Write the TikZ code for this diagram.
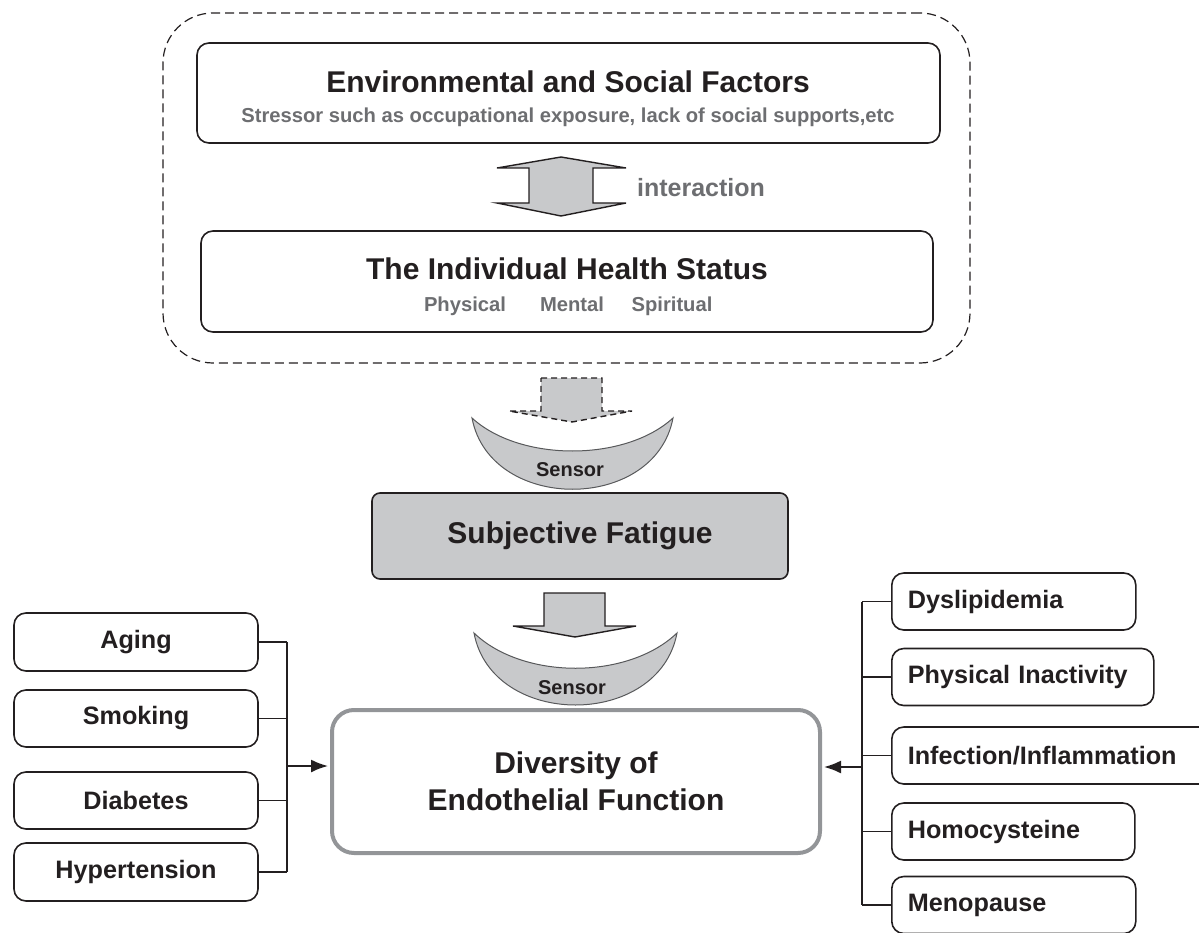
\documentclass[tikz,border=0pt]{standalone}
\usepackage{fontspec}
\setmainfont{Liberation Sans}
\usetikzlibrary{positioning}
\usetikzlibrary{arrows.meta}
\definecolor{ink}{HTML}{231F20}
\definecolor{softgray}{HTML}{6D6E71}
\definecolor{fillgray}{HTML}{C8C9CB}
\definecolor{framegray}{HTML}{939598}
\definecolor{rimgray}{HTML}{58595B}
\tikzset{
    mybox/.style = {rectangle, rounded corners=12pt, line width=1.6pt, draw=ink, inner sep=0pt, align=center, font=\bfseries\fontsize{25.2}{29}\selectfont, text=ink},
    myboxg/.style = {mybox, rounded corners=8pt, fill=fillgray, font=\bfseries\fontsize{30}{36}\selectfont},
    myboxm/.style = {mybox, rounded corners=22pt, line width=4pt, draw=framegray, font=\bfseries\fontsize{30}{37}\selectfont},
    myboxd/.style = {rectangle, rounded corners=50pt, line width=1.2pt, draw=ink, dash pattern=on 9pt off 5pt},
    myboxr/.style = {mybox, anchor=west, align=left, inner xsep=16pt, minimum height=57pt, text width=#1},
    mytitle/.style = {font=\bfseries\fontsize{30}{36}\selectfont, text=ink},
    mysub/.style = {font=\bfseries\fontsize{20.2}{24}\selectfont, text=softgray},
    mysubb/.style = {mysub, anchor=base},
    mysensor/.style = {font=\bfseries\fontsize{20}{24}\selectfont, text=ink},
    blockarrow/.style = {line width=1.4pt, draw=ink, fill=fillgray, line join=miter},
    crescent/.style = {line width=1pt, draw=rimgray, fill=fillgray},
    edgen/.style = {-, line width=1.8pt, ink},
    edgea/.style = {-{Latex[length=17pt,width=13pt]}, line width=1.8pt, ink, shorten >=2pt},
}

\begin{document}
\begin{tikzpicture}[x=1pt, y=-1pt]
  \useasboundingbox (0,0) rectangle (1199,933);

  % upper block
  \node[myboxd, minimum width=807pt, minimum height=350pt] (outer) at (566.5,188) {};
  \node[mybox, minimum width=743pt, minimum height=100pt] (env) at (568.5,93) {};
  \node[mytitle] (envt) at (568,82) {Environmental and Social Factors};
  \node[mysub] (envs) at (568,117) {Stressor such as occupational exposure, lack of social supports,etc};
  \node[mybox, minimum width=732pt, minimum height=101pt] (ind) at (567,281.5) {};
  \node[mytitle] (indt) at (567,269) {The Individual Health Status};
  \node[mysubb] (phys) at (465,312) {Physical};
  \node[mysubb] (ment) at (572,312) {Mental};
  \node[mysubb] (spir) at (672,312) {Spiritual};

  \draw[blockarrow] (561,157) -- (626,168) -- (593,168) -- (593,203) -- (626,203) -- (561,216)
    -- (497,203) -- (529,203) -- (529,168) -- (497,168) -- cycle;
  \node[font=\bfseries\fontsize{25}{30}\selectfont, text=softgray] (inter) at (701,188) {interaction};

  % sensor 1
  \draw[blockarrow, dash pattern=on 6pt off 4pt] (541,378) -- (602,378) -- (602,411) -- (632,411)
    -- (572,422) -- (509,411) -- (541,411) -- cycle;
  \draw[crescent] (472,418) .. controls (490,513) and (655,513) .. (673,418)
    .. controls (625,462) and (520,462) .. cycle;
  \node[mysensor] (sens1) at (570,470) {Sensor};

  \node[myboxg, minimum width=416pt, minimum height=86pt] (fatigue) at (580,536) {Subjective Fatigue};

  % sensor 2
  \draw[blockarrow] (544,593) -- (605,593) -- (605,626) -- (636,626) -- (575,637)
    -- (513,626) -- (544,626) -- cycle;
  \draw[crescent] (474,633) .. controls (492,729) and (659,729) .. (677,633)
    .. controls (628,680) and (523,680) .. cycle;
  \node[mysensor] (sens2) at (572,688) {Sensor};

  \node[myboxm, minimum width=488pt, minimum height=143pt] (main) at (576,781.5) {Diversity of\\Endothelial Function};

  % left factors
  \node[mybox, minimum width=244pt, minimum height=58pt] (aging) at (136,642) {Aging};
  \node[mybox, minimum width=244pt, minimum height=57pt] (smoking) at (136,718.5) {Smoking};
  \node[mybox, minimum width=244pt, minimum height=57pt] (diabetes) at (136,800.5) {Diabetes};
  \node[mybox, minimum width=244pt, minimum height=58pt] (hyper) at (136,872) {Hypertension};
  \coordinate (busl) at (287,766);
  \foreach \n in {aging,smoking,diabetes,hyper}
    \draw[edgen] (\n.east) -- (\n.east -| busl);
  \draw[edgen] (aging.east -| busl) -- (hyper.east -| busl);
  \draw[edgea] (busl) -- (busl -| main.west);

  % right factors
  \node[myboxr=212pt] (dys) at (891,601.5) {Dyslipidemia};
  \node[myboxr=230pt] (inact) at (891,677) {Physical Inactivity};
  \node[myboxr=287pt] (infl) at (891,755.5) {Infection/Inflammation};
  \node[myboxr=211pt] (homo) at (891,831.5) {Homocysteine};
  \node[myboxr=212pt] (meno) at (891,905) {Menopause};
  \coordinate (busr) at (862,767);
  \foreach \n in {dys,inact,infl,homo,meno}
    \draw[edgen] (\n.west) -- (\n.west -| busr);
  \draw[edgen] (dys.west -| busr) -- (meno.west -| busr);
  \draw[edgea] (busr) -- (busr -| main.east);
\end{tikzpicture}
\end{document}
